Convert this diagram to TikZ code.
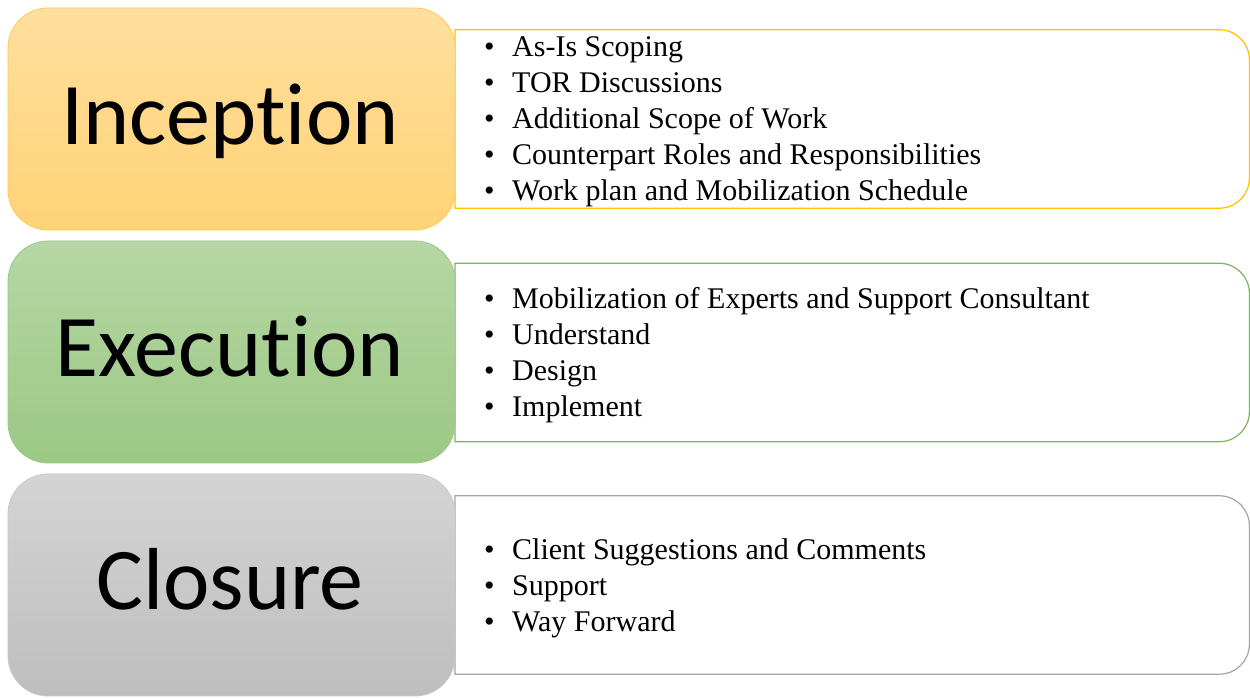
\documentclass[tikz,border=0pt]{standalone}
\usepackage{fontspec}
\setmainfont{Liberation Serif}
\newfontfamily\titlefont[Ligatures={NoCommon,NoRare,NoContextual}]{Carlito}
\definecolor{incTop}{RGB}{255,223,158}
\definecolor{incBot}{RGB}{255,211,118}
\definecolor{incEdge}{RGB}{250,205,90}
\definecolor{incLine}{RGB}{255,192,0}
\definecolor{exeTop}{RGB}{182,215,164}
\definecolor{exeBot}{RGB}{156,200,132}
\definecolor{exeEdge}{RGB}{160,200,140}
\definecolor{exeLine}{RGB}{125,180,95}
\definecolor{cloTop}{RGB}{212,212,212}
\definecolor{cloBot}{RGB}{190,190,190}
\definecolor{cloEdge}{RGB}{200,200,200}
\definecolor{cloLine}{RGB}{165,165,165}
\tikzset{
  phase/.style={rounded corners=40pt, minimum width=447pt, minimum height=222pt,
    inner sep=0pt, line width=0.8pt},
  title/.style={anchor=base, inner sep=0pt, font=\titlefont\fontsize{88}{100}\selectfont},
  listbox/.style={minimum width=794pt, minimum height=178pt, inner sep=0pt, anchor=west},
  outline/.style={line width=1.2pt, fill=white},
  item/.style={anchor=base west, inner sep=0pt, font=\fontsize{30}{36}\selectfont},
}
\newcommand{\bul}[1]{\makebox[28pt][l]{\textbullet}#1}
\begin{document}
\begin{tikzpicture}[x=1pt,y=1pt]
\useasboundingbox (0,0) rectangle (1250,698);
\fill[white] (0,0) rectangle (1250,698);
% list boxes (invisible nodes) and their outlines
\node[listbox] (ib) at (455,579) {};
\node[listbox] (eb) at (455,345.5) {};
\node[listbox] (cb) at (455,113) {};
\foreach \b/\c in {ib/incLine,eb/exeLine,cb/cloLine}{
  \draw[outline, draw=\c] (\b.south west) -- (\b.north west)
    -- ([xshift=-30pt]\b.north east) arc[start angle=90,end angle=0,radius=30pt]
    -- ([yshift=30pt]\b.south east) arc[start angle=0,end angle=-90,radius=30pt]
    -- cycle;
}
% phase boxes
\node[phase, draw=incEdge, top color=incTop, bottom color=incBot] (inc) at (231.5,579) {};
\node[phase, draw=exeEdge, top color=exeTop, bottom color=exeBot] (exe) at (231.5,346) {};
\node[phase, draw=cloEdge, top color=cloTop, bottom color=cloBot] (clo) at (231.5,113) {};
\node[title] (tinc) at (230,553) {Inception};
\node[title] (texe) at (230,321) {Execution};
\node[title] (tclo) at (230,88) {Closure};
% items
\node[item] (i1) at (484,641) {\bul{As-Is Scoping}};
\node[item] (i2) at (484,605) {\bul{TOR Discussions}};
\node[item] (i3) at (484,569) {\bul{Additional Scope of Work}};
\node[item] (i4) at (484,533) {\bul{Counterpart Roles and Responsibilities}};
\node[item] (i5) at (484,497) {\bul{Work plan and Mobilization Schedule}};
\node[item] (e1) at (484,389) {\bul{Mobilization of Experts and Support Consultant}};
\node[item] (e2) at (484,353) {\bul{Understand}};
\node[item] (e3) at (484,317) {\bul{Design}};
\node[item] (e4) at (484,281) {\bul{Implement}};
\node[item] (c1) at (484,138) {\bul{Client Suggestions and Comments}};
\node[item] (c2) at (484,102) {\bul{Support}};
\node[item] (c3) at (484,66) {\bul{Way Forward}};
\end{tikzpicture}
\end{document}
